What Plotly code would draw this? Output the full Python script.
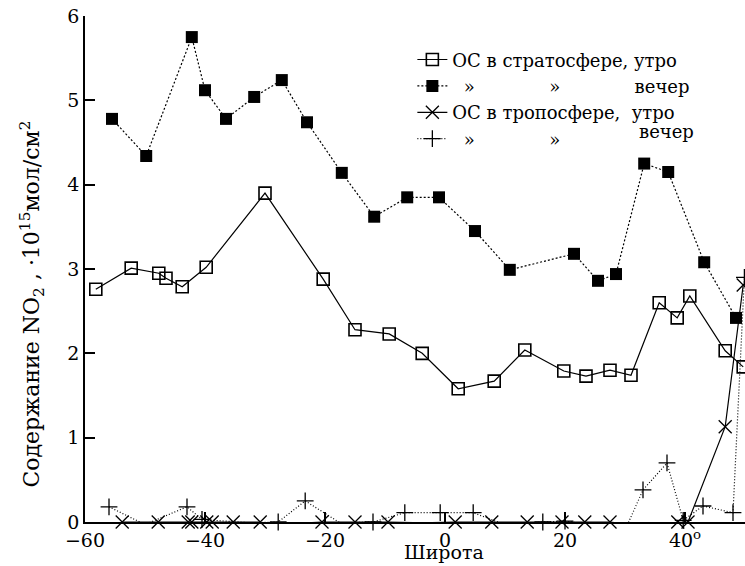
import plotly.graph_objects as go

# Latitude (degrees) and NO2 column content (10^15 mol/cm^2)
strat_morning_lat = [-58.2, -52.3, -47.7, -46.5, -43.8, -39.8, -30.0, -20.3, -15.0, -9.3,
                     -3.8, 2.2, 8.2, 13.3, 19.8, 23.5, 27.5, 31.0, 35.7, 38.7, 40.8, 46.7, 49.7]
strat_morning_val = [2.76, 3.01, 2.95, 2.89, 2.79, 3.02, 3.90, 2.88, 2.28, 2.23,
                     2.00, 1.58, 1.67, 2.04, 1.79, 1.73, 1.80, 1.74, 2.60, 2.42, 2.68, 2.03, 1.84]

strat_evening_lat = [-55.5, -49.8, -42.2, -40.0, -36.5, -31.8, -27.2, -23.0, -17.2, -11.8,
                     -6.3, -1.0, 5.0, 10.8, 21.5, 25.5, 28.5, 33.2, 37.2, 43.2, 48.5]
strat_evening_val = [4.78, 4.34, 5.75, 5.12, 4.78, 5.04, 5.24, 4.74, 4.14, 3.62,
                     3.85, 3.85, 3.45, 2.99, 3.18, 2.86, 2.94, 4.25, 4.15, 3.08, 2.42]

trop_morning_lat = [-53.8, -47.8, -42.8, -42.2, -39.7, -38.8, -35.3, -30.8, -30.0, -20.5,
                    -15.0, -9.5, -3.7, 1.7, 7.8, 13.7, 19.5, 23.3, 27.5, 30.5,
                    36.2, 38.8, 40.5, 46.7, 49.7]
trop_morning_val = [0.0, 0.0, 0.0, 0.0, 0.0, 0.0, 0.0, 0.0, -0.04, 0.0,
                    0.0, 0.0, -0.01, 0.0, 0.0, 0.0, 0.0, 0.0, 0.0, -0.03,
                    -0.01, 0.0, 0.0, 1.13, 2.81]

trop_evening_lat = [-56.0, -50.0, -43.0, -40.5, -32.5, -27.8, -23.3, -17.5, -12.0, -6.7,
                    -0.8, 4.7, 10.3, 16.3, 20.0, 25.3, 30.3, 33.0, 37.0, 39.7,
                    43.0, 48.0, 49.9]
trop_evening_val = [0.18, -0.03, 0.18, 0.03, -0.01, 0.0, 0.25, -0.01, 0.0, 0.11,
                    0.11, 0.11, -0.04, 0.0, 0.01, -0.04, -0.05, 0.38, 0.70, 0.02,
                    0.19, 0.11, 2.9]

x_ticks = [-60, -40, -20, 0, 20, 40]
x_tick_text = ["\u221260", "\u221240", "\u221220", "0", "20", "40<sup>o</sup>"]
y_ticks = [0, 1, 2, 3, 4, 5, 6]

FONT = "DejaVu Serif"
NB = "\u00a0"
ditto_row = NB * 2 + "\u00bb" + NB * 13 + "\u00bb" + NB * 13

fig = go.Figure()

fig.add_trace(go.Scatter(
    x=strat_morning_lat, y=strat_morning_val, mode="lines+markers",
    name="ОС в стратосфере, утро", legendgroup="a",
    line=dict(color="black", width=1.2),
    marker=dict(symbol="square-open", size=12, color="black", line=dict(width=1.6)),
    cliponaxis=False,
))
fig.add_trace(go.Scatter(
    x=strat_evening_lat, y=strat_evening_val, mode="lines+markers",
    name=ditto_row + "вечер", legendgroup="b",
    line=dict(color="black", width=1.2, dash="2px,2px"),
    marker=dict(symbol="square", size=12, color="black"),
    cliponaxis=False,
))
fig.add_trace(go.Scatter(
    x=trop_morning_lat, y=trop_morning_val, mode="lines+markers",
    name="ОС в тропосфере," + NB + NB + "утро", legendgroup="c",
    line=dict(color="black", width=1.2),
    marker=dict(symbol="x-thin-open", size=13, color="black", line=dict(width=1.3, color="black")),
    cliponaxis=False,
))
fig.add_trace(go.Scatter(
    x=trop_evening_lat, y=trop_evening_val, mode="lines+markers",
    name=ditto_row, legendgroup="d",
    line=dict(color="black", width=1.2, dash="1px,2px"),
    marker=dict(symbol="cross-thin-open", size=12, color="black", line=dict(width=1.3, color="black")),
    cliponaxis=False,
))

fig.update_layout(
    width=745, height=566,
    margin=dict(l=85, r=0, t=16, b=44),
    paper_bgcolor="white", plot_bgcolor="white",
    font=dict(family=FONT, size=18, color="black"),
    showlegend=True,
    legend=dict(
        x=0.496, y=0.95, xanchor="left", yanchor="top",
        bgcolor="rgba(0,0,0,0)", font=dict(family=FONT, size=18),
        tracegroupgap=0, itemwidth=30,
    ),
    xaxis=dict(
        range=[-60, 50], tickvals=x_ticks, ticktext=x_tick_text,
        ticks="inside", ticklen=10, tickwidth=1.5, tickcolor="black",
        showline=True, linecolor="black", linewidth=2,
        showgrid=False, zeroline=False,
        tickfont=dict(family=FONT, size=19),
    ),
    yaxis=dict(
        range=[0, 6], tickvals=y_ticks,
        ticks="inside", ticklen=10, tickwidth=1.5, tickcolor="black",
        showline=True, linecolor="black", linewidth=1.5,
        showgrid=False, zeroline=False,
        tickfont=dict(family=FONT, size=19),
    ),
    annotations=[
        dict(text="Широта", xref="paper", yref="paper", x=0.544, y=-0.084,
             xanchor="center", yanchor="bottom", showarrow=False,
             font=dict(family=FONT, size=19)),
        dict(text="Содержание NO<sub>2</sub> , ·10<sup>15</sup>мол/см<sup>2</sup>",
             xref="paper", yref="paper", x=-0.08, y=0.43, xanchor="center", yanchor="middle",
             textangle=-90, showarrow=False, font=dict(family=FONT, size=22)),
        dict(text="вечер", xref="paper", yref="paper", x=0.836, y=0.771,
             xanchor="left", yanchor="middle", showarrow=False,
             font=dict(family=FONT, size=18)),
    ],
)

fig.write_html("out.html")
